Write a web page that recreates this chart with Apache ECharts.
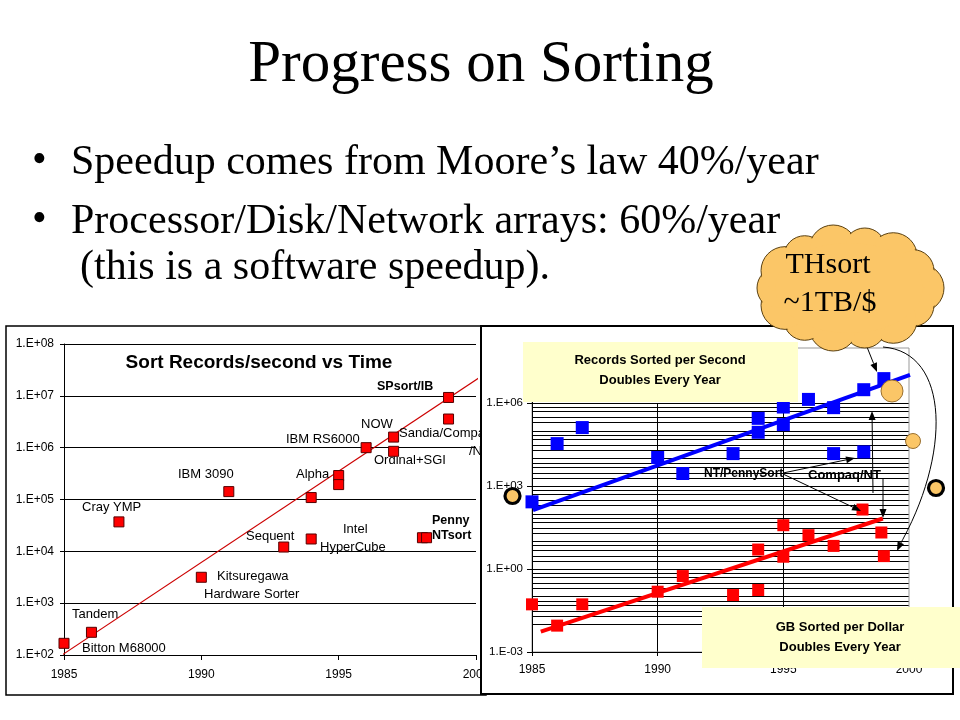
<!DOCTYPE html>
<html><head><meta charset="utf-8">
<script src="https://cdn.jsdelivr.net/npm/echarts@6/dist/echarts.min.js"></script>
<style>html,body{margin:0;padding:0;background:#fff}#c{width:960px;height:720px}</style>
</head><body><div id="c"></div>
<script>
// ---------- DATA ----------
// Left chart: Sort Records/second vs Time
const leftYears = [1985, 1986, 1987, 1990, 1991, 1993, 1994, 1994, 1995, 1995, 1996, 1997, 1997, 1998.05, 1998.2, 1999, 1999];
const leftRecs  = [168, 274, 37000, 3160, 142000, 12100, 17300, 109000, 290000, 194000, 1000000, 1600000, 850000, 18300, 18300, 9300000, 3570000];
const leftTrendYears = [1984.3, 2000.1];
const leftTrendVals  = [60, 22000000];

// Right chart: records sorted per second (blue) and GB sorted per dollar (red)
const rpsYears = [1985, 1986, 1987, 1990, 1991, 1993, 1994, 1994, 1995, 1995, 1996, 1997, 1997, 1998.2, 1998.2, 1999];
const rpsVals  = [271, 34700, 132000, 10900, 2870, 15100, 285000, 89000, 730000, 169000, 1380000, 694000, 15100, 3100000, 17400, 7800000];
const rpsTrendYears = [1985.04, 2000.04];
const rpsTrendVals  = [136, 10700000];

const gbYears = [1985, 1986, 1987, 1990, 1991, 1993, 1994, 1994, 1995, 1995, 1996, 1997, 1998.15, 1998.9, 1999];
const gbVals  = [0.053, 0.009, 0.053, 0.152, 0.56, 0.115, 0.175, 5.1, 38.7, 2.8, 16.9, 6.9, 143, 21.1, 2.95];
const gbTrendYears = [1985.35, 1998.96];
const gbTrendVals  = [0.0055, 67.6];

// Axis ticks
const yearTicks = [1985, 1990, 1995, 2000];
const rightLabelExps = [-3, 0, 3, 6];
const rightVGridYears = [1990, 1995];
const rightMinorMultipliers = [2, 3, 5, 7];

// Left chart labels
const leftLabels = ['Tandem','Bitton M68000','Cray YMP','IBM 3090','Kitsuregawa','Hardware Sorter','Sequent','Intel','HyperCube','Alpha','IBM RS6000','NOW','Sandia/Compaq','/NT','Ordinal+SGI'];
const leftBoldLabels = ['SPsort/IB','Penny','NTsort'];

// ---------- HELPERS ----------
const SANS = '"Liberation Sans", Arial, sans-serif';
const SERIF = '"Liberation Serif", "Times New Roman", serif';
const zip = (a, b) => a.map((v, i) => [v, b[i]]);
function expLabel(v) {
  const e = Math.round(Math.log10(v));
  return '1.E' + (e < 0 ? '-' : '+') + String(Math.abs(e)).padStart(2, '0');
}
function T(text, x, y, size, opt) {
  opt = opt || {};
  return {type: 'text', x: x, y: y, z: opt.z || 3, silent: true,
    style: {text: text, fill: '#000', font: (opt.bold ? 'bold ' : '') + size + 'px ' + (opt.family || SANS),
      align: opt.align || 'left', verticalAlign: 'middle'}};
}
function arrow(x1, y1, x2, y2, z) {
  const a = Math.atan2(y2 - y1, x2 - x1), L = 9, W = 3.5;
  const bx = x2 - L * Math.cos(a), by = y2 - L * Math.sin(a);
  const px = -Math.sin(a) * W, py = Math.cos(a) * W;
  return [
    {type: 'line', z: z, silent: true, shape: {x1: x1, y1: y1, x2: bx, y2: by}, style: {stroke: '#000', lineWidth: 1}},
    {type: 'polygon', z: z, silent: true, shape: {points: [[x2, y2], [bx + px, by + py], [bx - px, by - py]]}, style: {fill: '#000'}}
  ];
}

// gridlines for right chart (axis decoration: decades and a few minor lines)
const rightHGrid = [];
for (let k = -3; k <= 6; k++) {
  rightHGrid.push(Math.pow(10, k));
  if (k < 6) rightMinorMultipliers.forEach(m => rightHGrid.push(m * Math.pow(10, k)));
}

// ---------- GRAPHICS ----------
const g = [];
// left frame
g.push({type: 'rect', z: 0, silent: true, shape: {x: 6, y: 326, width: 480, height: 369}, style: {fill: '#fff', stroke: '#000', lineWidth: 1.5}});
// slide title and bullets
g.push(T('Progress on Sorting', 481, 65, 59, {family: SERIF, align: 'center'}));
g.push(T('\u2022', 32, 161, 42, {family: SERIF}));
g.push(T('Speedup comes from Moore\u2019s law 40%/year', 71, 163, 42, {family: SERIF}));
g.push(T('\u2022', 32, 220, 42, {family: SERIF}));
g.push(T('Processor/Disk/Network arrays: 60%/year', 71, 222, 42, {family: SERIF}));
g.push(T('(this is a software speedup).', 80, 268, 42, {family: SERIF}));

// left chart texts
g.push(T('Sort Records/second vs Time', 259, 363, 19, {bold: true, align: 'center'}));
const leftLabelPos = [[72,614],[82,648],[82,507],[178,474],[217,576],[204,594],[246,536],[343,529],[320,547],[296,474],[286,439],[361,424],[399,433],[469,451],[374,460]];
leftLabels.forEach((t, i) => g.push(T(t, leftLabelPos[i][0], leftLabelPos[i][1], 13)));
const leftBoldPos = [[377,387],[432,521],[432,536]];
leftBoldLabels.forEach((t, i) => g.push(T(t, leftBoldPos[i][0], leftBoldPos[i][1], 12.5, {bold: true})));

// right frame
g.push({type: 'rect', z: 4, silent: true, shape: {x: 481, y: 326, width: 472, height: 368}, style: {fill: '#fff', stroke: '#000', lineWidth: 2}});

// right annotations
g.push(T('NT/PennySort', 704, 474, 12, {bold: true, z: 9}));
g.push(T('Compaq/NT', 808, 475, 13, {bold: true, z: 9}));
[].concat(
  arrow(783, 473, 855, 458, 9),
  arrow(783, 474, 861, 511, 9),
  arrow(873, 493, 872, 411, 9),
  arrow(883, 479, 883, 518, 9),
  arrow(867, 347, 877, 372, 9)
).forEach(e => g.push(e));
g.push({type: 'bezierCurve', z: 9, silent: true, shape: {x1: 883, y1: 347, cpx1: 950, cpy1: 352, cpx2: 952, cpy2: 455, x2: 898, y2: 548}, style: {stroke: '#000', lineWidth: 1, fill: null}});
arrow(903, 538, 897, 551, 9).slice(1).forEach(e => g.push(e));

// thought-bubble circles
const ORANGE = '#fbc667';
g.push({type: 'circle', z: 9, silent: true, shape: {cx: 512.5, cy: 496, r: 7.5}, style: {fill: ORANGE, stroke: '#000', lineWidth: 3.2}});
g.push({type: 'circle', z: 9, silent: true, shape: {cx: 892, cy: 391, r: 11}, style: {fill: ORANGE, stroke: '#9a7030', lineWidth: 1}});
g.push({type: 'circle', z: 9, silent: true, shape: {cx: 913, cy: 441, r: 7.5}, style: {fill: ORANGE, stroke: '#9a7030', lineWidth: 1}});
g.push({type: 'circle', z: 9, silent: true, shape: {cx: 936, cy: 488, r: 7.5}, style: {fill: ORANGE, stroke: '#000', lineWidth: 3.2}});

// yellow boxes
const YEL = '#ffffcc';
g.push({type: 'rect', z: 10, silent: true, shape: {x: 523, y: 342, width: 275, height: 60}, style: {fill: YEL}});
g.push(T('Records Sorted per Second', 660, 360, 13, {bold: true, align: 'center', z: 11}));
g.push(T('Doubles Every Year', 660, 380, 13, {bold: true, align: 'center', z: 11}));
g.push({type: 'rect', z: 10, silent: true, shape: {x: 702, y: 607, width: 258, height: 61}, style: {fill: YEL}});
g.push(T('GB Sorted per Dollar', 840, 627, 13, {bold: true, align: 'center', z: 11}));
g.push(T('Doubles Every Year', 840, 647, 13, {bold: true, align: 'center', z: 11}));

// cloud
const bumps = [];
for (let i = 0; i < 14; i++) {
  const a = i / 14 * 2 * Math.PI;
  bumps.push([849 + 71 * Math.cos(a), 288 + 40 * Math.sin(a), i % 2 ? 21 : 24]);
}
bumps.forEach(b => g.push({type: 'circle', z: 12, silent: true, shape: {cx: b[0], cy: b[1], r: b[2]}, style: {fill: ORANGE, stroke: '#5a4010', lineWidth: 1}}));
bumps.forEach(b => g.push({type: 'circle', z: 13, silent: true, shape: {cx: b[0], cy: b[1], r: b[2] - 1.2}, style: {fill: ORANGE}}));
g.push({type: 'ellipse', z: 13, silent: true, shape: {cx: 849, cy: 288, rx: 74, ry: 45}, style: {fill: ORANGE}});
g.push(T('THsort', 828, 265, 30, {family: SERIF, align: 'center', z: 14}));
g.push(T('~1TB/$', 830, 303, 30, {family: SERIF, align: 'center', z: 14}));

// ---------- OPTION ----------
const axisText = {color: '#000', fontFamily: SANS, fontSize: 12};
const blackLine = {lineStyle: {color: '#000', width: 1}};
const option = {
  animation: false,
  backgroundColor: '#fff',
  grid: [
    {left: 64, top: 344, width: 412, height: 311, z: 1},
    {left: 532, top: 348, width: 377, height: 304, z: 6, show: true, backgroundColor: 'transparent', borderColor: '#999', borderWidth: 1}
  ],
  xAxis: [
    {gridIndex: 0, type: 'value', min: 1985, max: 2000, interval: 5, z: 1,
      axisLine: blackLine, axisTick: {show: true, length: 5, lineStyle: {color: '#000'}},
      axisLabel: Object.assign({margin: 14, formatter: v => yearTicks.includes(v) ? String(v) : ''}, axisText),
      splitLine: {show: false}},
    {gridIndex: 1, type: 'value', min: 1985, max: 2000, interval: 5, z: 6,
      axisLine: blackLine, axisTick: {show: true, length: 4, lineStyle: {color: '#000'}},
      axisLabel: Object.assign({margin: 12, formatter: v => yearTicks.includes(v) ? String(v) : ''}, axisText),
      splitLine: {show: false}}
  ],
  yAxis: [
    {gridIndex: 0, type: 'log', logBase: 10, min: 100, max: 1e8, interval: 1, z: 1,
      axisLine: {show: true, lineStyle: {color: '#000', width: 1}},
      axisTick: {show: true, length: 4, lineStyle: {color: '#000'}},
      axisLabel: Object.assign({margin: 10, formatter: v => expLabel(v)}, axisText),
      splitLine: {show: true, lineStyle: {color: '#000', width: 1}}},
    {gridIndex: 1, type: 'log', logBase: 10, min: 0.001, max: 1e8, interval: 3, z: 6,
      axisLine: {show: true, lineStyle: {color: '#000', width: 1}},
      axisTick: {show: true, length: 5, lineStyle: {color: '#000'}},
      axisLabel: Object.assign({margin: 9, formatter: v => rightLabelExps.includes(Math.round(Math.log10(v))) ? expLabel(v) : ''}, axisText, {fontSize: 11.5}),
      splitLine: {show: false}}
  ],
  series: [
    {type: 'line', xAxisIndex: 0, yAxisIndex: 0, z: 2, silent: true, clip: false, symbol: 'none',
      data: zip(leftTrendYears, leftTrendVals), lineStyle: {color: '#cc0000', width: 1.2}},
    {type: 'scatter', xAxisIndex: 0, yAxisIndex: 0, z: 3, silent: true, symbol: 'rect', symbolSize: 10,
      data: zip(leftYears, leftRecs), itemStyle: {color: '#ff0000', borderColor: '#500', borderWidth: 1, opacity: 1}},
    {type: 'line', xAxisIndex: 1, yAxisIndex: 1, z: 6, silent: true, symbol: 'none', data: [],
      markLine: {silent: true, symbol: 'none', animation: false, label: {show: false},
        lineStyle: {type: 'solid', color: '#000', width: 1},
        emphasis: {disabled: true},
        data: rightHGrid.map(v => ({yAxis: v})).concat(
          rightVGridYears.map(y => [{coord: [y, 0.001]}, {coord: [y, 1e6]}]))}},
    {type: 'line', xAxisIndex: 1, yAxisIndex: 1, z: 7, silent: true, symbol: 'none',
      data: zip(rpsTrendYears, rpsTrendVals), lineStyle: {color: '#0000ff', width: 4}},
    {type: 'line', xAxisIndex: 1, yAxisIndex: 1, z: 7, silent: true, symbol: 'none',
      data: zip(gbTrendYears, gbTrendVals), lineStyle: {color: '#ff0000', width: 4}},
    {type: 'scatter', xAxisIndex: 1, yAxisIndex: 1, z: 8, silent: true, symbol: 'rect', symbolSize: 13,
      data: zip(rpsYears, rpsVals), itemStyle: {color: '#0000ff', opacity: 1}},
    {type: 'scatter', xAxisIndex: 1, yAxisIndex: 1, z: 8, silent: true, symbol: 'rect', symbolSize: 12,
      data: zip(gbYears, gbVals), itemStyle: {color: '#ff0000', opacity: 1}}
  ],
  graphic: {elements: g}
};
const chart = echarts.init(document.getElementById('c'), null, {renderer: 'canvas'});
chart.setOption(option);
</script></body></html>
